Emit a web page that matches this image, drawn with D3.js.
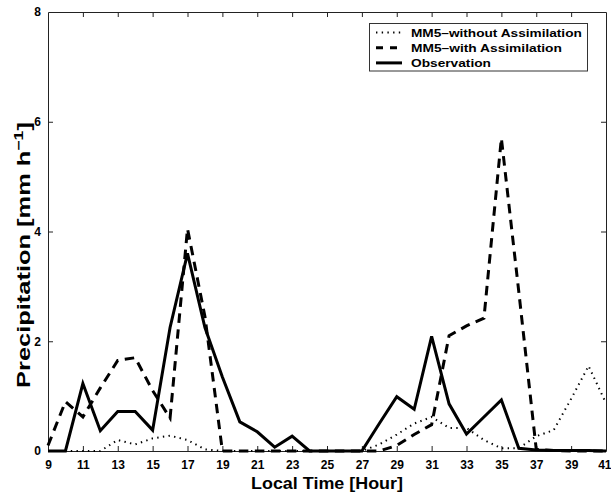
<!DOCTYPE html>
<html>
<head>
<meta charset="utf-8">
<script src="https://cdn.jsdelivr.net/npm/d3@7/dist/d3.min.js"></script>
<style>
  html, body { margin: 0; padding: 0; background: #fff; }
  svg { display: block; font-family: "Liberation Sans", Arial, Helvetica, sans-serif; font-weight: bold; }
</style>
</head>
<body>
<svg id="chart" width="611" height="497"></svg>
<script>
// Local time (hours) of each hourly value
const hours = [9,10,11,12,13,14,15,16,17,18,19,20,21,22,23,24,25,26,27,28,29,30,31,32,33,34,35,36,37,38,39,40,41];

// Hourly precipitation rate (mm h^-1)
const withoutAssim = [0,0,0,0,0.2,0.12,0.23,0.28,0.2,0.03,0,0,0,0,0,0,0,0,0,0.12,0.3,0.5,0.62,0.42,0.42,0.2,0.05,0.05,0.27,0.38,0.95,1.55,0.87];
const withAssim    = [0.1,0.9,0.62,1.15,1.65,1.7,1.1,0.6,4.05,2.45,0,0,0,0,0,0,0,0,0,0,0.1,0.3,0.48,2.1,2.28,2.42,5.7,2.9,0.03,0.01,0,0,0];
const observation  = [0,0,1.23,0.37,0.72,0.72,0.38,2.25,3.6,2.25,1.35,0.53,0.35,0.07,0.27,0,0,0,0,0.5,0.99,0.76,2.09,0.86,0.31,0.62,0.93,0.05,0.02,0.01,0.01,0.01,0];

const xTicks = [9,11,13,15,17,19,21,23,25,27,29,31,33,35,37,39,41];
const yTicks = [0,2,4,6,8];

const seriesNames = ["MM5\u2013without Assimilation", "MM5\u2013with Assimilation", "Observation"];

const svg = d3.select("#chart");
const margin = {left: 48, right: 5, top: 12, bottom: 46};
const W = 611, H = 497;
const x = d3.scaleLinear().domain([9, 41]).range([margin.left, W - margin.right]);
const y = d3.scaleLinear().domain([0, 8]).range([H - margin.bottom, margin.top]);

const tick = 5;

// Axes with inward ticks on all four sides
const gx = svg.append("g").attr("transform", `translate(0,${y(0)})`)
  .call(d3.axisBottom(x).tickValues(xTicks).tickSizeInner(-tick).tickSizeOuter(0).tickPadding(9).tickFormat(d3.format("d")));
const gxTop = svg.append("g").attr("transform", `translate(0,${y(8)})`)
  .call(d3.axisTop(x).tickValues(xTicks).tickSizeInner(-tick).tickSizeOuter(0).tickFormat(""));
const gy = svg.append("g").attr("transform", `translate(${x(9)},0)`)
  .call(d3.axisLeft(y).tickValues(yTicks).tickSizeInner(-tick).tickSizeOuter(0).tickPadding(7).tickFormat(d3.format("d")));
const gyR = svg.append("g").attr("transform", `translate(${x(41)},0)`)
  .call(d3.axisRight(y).tickValues(yTicks).tickSizeInner(-tick).tickSizeOuter(0).tickFormat(""));

[gx, gxTop, gy, gyR].forEach(g => {
  g.selectAll(".domain").attr("stroke", "#222").attr("stroke-width", 1);
  g.selectAll(".tick line").attr("stroke", "#222").attr("stroke-width", 1);
  g.selectAll(".tick text").attr("fill", "#000").style("font-size", "12px").style("font-weight", "bold")
    .style("font-family", "'Liberation Sans', Arial, sans-serif");
});
// keep the last hour label inside the page edge
gx.selectAll(".tick").filter(d => d === 41).select("text").attr("text-anchor", "end").attr("x", 5);
// drop ticks that sit on the frame corners
gxTop.selectAll(".tick").filter(d => d === 9 || d === 41).select("line").remove();
gx.selectAll(".tick").filter(d => d === 9 || d === 41).select("line").remove();
gy.selectAll(".tick").filter(d => d === 0 || d === 8).select("line").remove();
gyR.selectAll(".tick").filter(d => d === 0 || d === 8).select("line").remove();

// Series
const line = d3.line().x((d, i) => x(hours[i])).y(d => y(d));
const styles = [
  {data: withoutAssim, width: 2,   dash: "1.4,4.3", legendDash: "1.4,4.3"},
  {data: withAssim,    width: 3,   dash: "9.5,6.5", legendDash: "7,7"},
  {data: observation,  width: 3,   dash: null,      legendDash: null}
];
styles.forEach(s => {
  svg.append("path").datum(s.data)
    .attr("d", line)
    .attr("fill", "none")
    .attr("stroke", "#000")
    .attr("stroke-width", s.width)
    .attr("stroke-linejoin", "miter")
    .attr("stroke-miterlimit", 4)
    .attr("stroke-dasharray", s.dash);
});

// Stretch a text along its own direction so it spans a given length
function fitWidth(sel, target) {
  const w = sel.node().getComputedTextLength();
  return target / w;
}

// Axis titles (wide bold lettering)
const xt = svg.append("text")
  .attr("text-anchor", "middle")
  .style("font-size", "16.5px")
  .text("Local Time [Hour]");
const sxT = fitWidth(xt, 152);
xt.attr("transform", `translate(${(x(9) + x(41)) / 2},488.5) scale(${sxT},1)`);

const yt = svg.append("text")
  .attr("text-anchor", "middle")
  .style("font-size", "18px");
yt.append("tspan").text("Precipitation [mm h");
yt.append("tspan").attr("dy", -7).style("font-size", "12.5px").text("\u22121");
yt.append("tspan").attr("dy", 7).text("]");
const syT = fitWidth(yt, 266);
yt.attr("transform", `translate(30,255) rotate(-90) scale(${syT},1)`);

// Legend
const lg = svg.append("g");
lg.append("rect").attr("x", 369.5).attr("y", 23.5).attr("width", 218).attr("height", 47.5)
  .attr("fill", "#fff").attr("stroke", "#333").attr("stroke-width", 1);
const legendWidths = [171, 151, 80];
styles.forEach((s, i) => {
  const cy = 32.5 + i * 15.2;
  lg.append("line").attr("x1", 376).attr("x2", 402).attr("y1", cy).attr("y2", cy)
    .attr("stroke", "#000").attr("stroke-width", s.width)
    .attr("stroke-dasharray", s.legendDash);
  const t = lg.append("text").style("font-size", "11.8px").text(seriesNames[i]);
  const k = fitWidth(t, legendWidths[i]);
  t.attr("transform", `translate(411,${cy + 4.3}) scale(${k},1)`);
});
</script>
</body>
</html>
